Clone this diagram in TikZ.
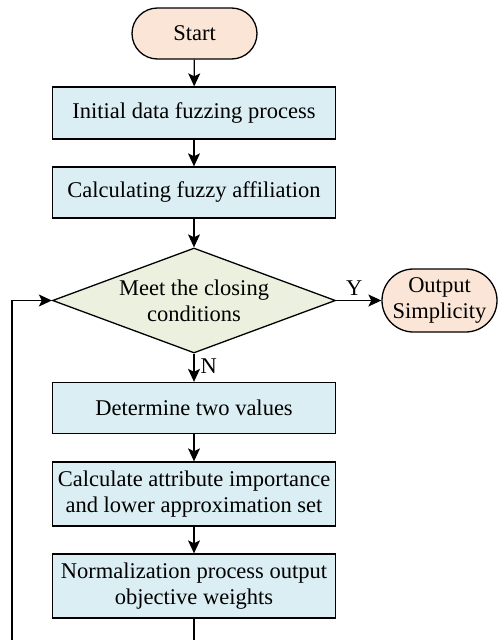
\documentclass[tikz,border=0pt]{standalone}
\usepackage{fontspec}
\setmainfont{Liberation Serif}
\usetikzlibrary{shapes.geometric,arrows.meta}
\definecolor{peach}{HTML}{FBE5D6}
\definecolor{lblue}{HTML}{DAEEF3}
\definecolor{lgreen}{HTML}{EBF1DE}
\begin{document}
\begin{tikzpicture}[x=1pt,y=-1pt,
  every node/.style={font=\fontsize{22.5}{26}\selectfont, align=center},
  term/.style={draw, line width=1.3pt, fill=peach, inner sep=0pt},
  proc/.style={draw, line width=1.3pt, fill=lblue, minimum width=283pt, inner sep=0pt},
  deci/.style={draw, line width=1.3pt, fill=lgreen, diamond, aspect=2.7, inner sep=0pt, minimum width=283pt, minimum height=105pt},
  conn/.style={line width=1.3pt, -{Stealth[length=13pt,width=12pt,inset=3pt]}},
  lbl/.style={font=\fontsize{22.5}{26}\selectfont, inner sep=0pt}]
\useasboundingbox (0,0) rectangle (498,640);
\node[term, minimum width=125pt, minimum height=51pt, rounded corners=25.5pt] (start) at (194.5,33.5) {Start};
\node[proc, minimum height=52pt] (b1) at (194,113) {Initial data fuzzing process};
\node[proc, minimum height=51pt] (b2) at (194,192.5) {Calculating fuzzy affiliation};
\node[deci] (d) at (194,300.5) {Meet the closing\\conditions};
\node[term, minimum width=115pt, minimum height=63pt, rounded corners=31.5pt] (out) at (439.5,300.5) {Output\\Simplicity};
\node[proc, minimum height=51pt] (b3) at (194,408) {Determine two values};
\node[proc, minimum height=64pt] (b4) at (194,494) {Calculate attribute importance\\and lower approximation set};
\node[proc, minimum height=64pt] (b5) at (194,586) {Normalization process output\\objective weights};
\coordinate (c1) at (194,648);
\coordinate (c2) at (12,648);
\draw[conn] (start) -- (b1);
\draw[conn] (b1) -- (b2);
\draw[conn] (b2) -- (d);
\draw[conn] (d) -- (out) node[lbl, pos=0.4, above=4pt] {Y};
\draw[conn] (d) -- (b3) node[lbl, pos=0.45, right=6pt] {N};
\draw[conn] (b3) -- (b4);
\draw[conn] (b4) -- (b5);
\draw[conn] (b5.south) -- (c1) -- (c2) |- (d.west);
\end{tikzpicture}
\end{document}
